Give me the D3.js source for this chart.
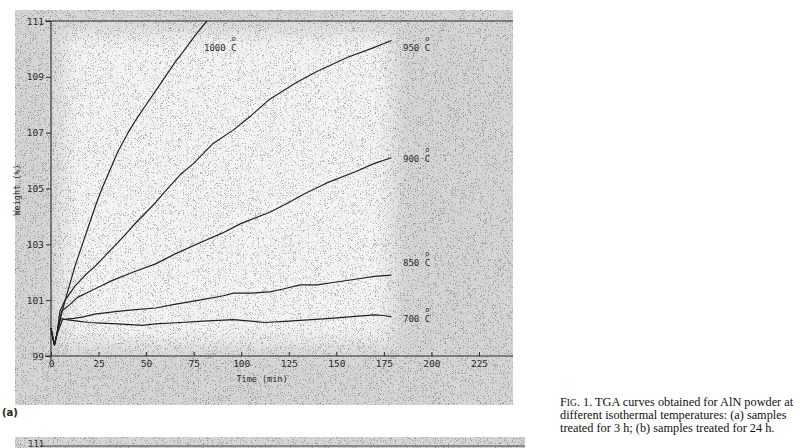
<!DOCTYPE html>
<html>
<head>
<meta charset="utf-8">
<script src="https://cdn.jsdelivr.net/npm/d3@7"></script>
<style>
  body { margin: 0; background: #fff; }
  svg { display: block; }
</style>
</head>
<body>
<svg id="chart" width="800" height="448"></svg>
<script>
// tick labels
var xTicks = [0, 25, 50, 75, 100, 125, 150, 175, 200, 225];
var yTicks = [99, 101, 103, 105, 107, 109, 111];

// curves: [time (min), weight (%)]
var curve700 = [[0,100.0],[0.8,99.7],[1.8,99.4],[3,99.75],[5,100.35],[8,100.3],[14,100.25],[20,100.2],[26,100.18],[35,100.15],[48,100.1],[55,100.15],[68,100.2],[80,100.25],[96,100.3],[105,100.25],[112,100.2],[125,100.25],[137,100.3],[147,100.35],[160,100.42],[170,100.47],[175,100.45],[179,100.4]];
var curve850 = [[0,100.0],[0.8,99.7],[1.8,99.4],[3,99.75],[6,100.3],[12,100.35],[17,100.4],[23,100.5],[35,100.6],[43,100.65],[55,100.72],[65,100.85],[78,101.0],[90,101.15],[96,101.25],[105,101.25],[115,101.3],[122,101.4],[131,101.55],[140,101.55],[150,101.65],[160,101.75],[170,101.85],[179,101.9]];
var curve900 = [[0,100.0],[0.8,99.7],[1.8,99.4],[3,99.75],[5.6,100.6],[10,100.85],[14,101.1],[20,101.3],[26,101.5],[32,101.7],[43,102.0],[55,102.3],[65,102.65],[78,103.05],[90,103.4],[100,103.75],[115,104.15],[125,104.5],[133,104.8],[145,105.2],[160,105.6],[170,105.9],[179,106.1]];
var curve950 = [[0,100.0],[0.8,99.7],[1.8,99.4],[3,99.75],[4.7,100.6],[7.4,101.0],[12.6,101.5],[18,101.9],[23,102.2],[30,102.7],[35,103.05],[39,103.35],[45,103.8],[50,104.15],[55,104.5],[60,104.9],[68,105.5],[75,105.9],[85,106.6],[96,107.1],[105,107.6],[115,108.2],[129,108.8],[140,109.2],[156,109.7],[168,110.0],[179,110.3]];
var curve1000 = [[0,100.0],[0.8,99.7],[1.8,99.4],[3,99.75],[4.7,100.3],[7.5,101.0],[10,101.6],[13,102.3],[16.5,103.0],[20,103.7],[23.5,104.4],[26.8,105.0],[30,105.5],[35,106.3],[40.5,107.0],[45,107.5],[50,108.0],[55,108.5],[60,109.0],[65,109.5],[70,109.95],[76,110.5],[82,111.0]];

var seriesNames = ["1000", "950", "900", "850", "700"];
var seriesData = [curve1000, curve950, curve900, curve850, curve700];

var svg = d3.select("#chart");

// speckle texture like the photocopy
var defs = svg.append("defs");
var f = defs.append("filter").attr("id", "speck")
  .attr("x", 0).attr("y", 0).attr("width", 1).attr("height", 1);
f.append("feTurbulence").attr("type", "fractalNoise")
  .attr("baseFrequency", 1.4).attr("numOctaves", 1).attr("seed", 4);
f.append("feColorMatrix").attr("type", "matrix")
  .attr("values", "0 0 0 0 0  0 0 0 0 0  0 0 0 0 0  6 0 0 0 -3.3");
f.append("feComposite").attr("in2", "SourceGraphic").attr("operator", "in");
var soft = defs.append("filter").attr("id", "soft")
  .attr("x", -0.2).attr("y", -0.2).attr("width", 1.4).attr("height", 1.4);
soft.append("feGaussianBlur").attr("stdDeviation", 10);

var x = d3.scaleLinear().domain([0, 225]).range([51, 479]);
var y = d3.scaleLinear().domain([99, 111]).range([356, 21]);

// grey scan background
svg.append("rect").attr("x", 15).attr("y", 10).attr("width", 498).attr("height", 395)
  .attr("fill", "#d6d6d6");
svg.append("rect").attr("x", 62).attr("y", 32).attr("width", 330).attr("height", 312)
  .attr("fill", "#f4f4f4").attr("filter", "url(#soft)");
svg.append("rect").attr("x", 15).attr("y", 10).attr("width", 498).attr("height", 395)
  .attr("fill", "#000").attr("opacity", 0.3).attr("filter", "url(#speck)");
// start of panel (b)
svg.append("rect").attr("x", 15).attr("y", 437).attr("width", 510).attr("height", 11)
  .attr("fill", "#d6d6d6");
svg.append("rect").attr("x", 15).attr("y", 437).attr("width", 510).attr("height", 11)
  .attr("fill", "#000").attr("opacity", 0.3).attr("filter", "url(#speck)");
svg.append("line").attr("x1", 40).attr("x2", 525).attr("y1", 446).attr("y2", 446)
  .attr("stroke", "#444").attr("stroke-width", 1);
svg.append("text").attr("x", 28).attr("y", 447)
  .attr("font-family", "DejaVu Sans Mono").attr("font-size", 9).attr("fill", "#333").text("111");

var ink = "#2a2a2a";
var mono = "DejaVu Sans Mono";

// axes
var xAxis = d3.axisBottom(x).tickValues(xTicks).tickSize(-4).tickPadding(4);
var gx = svg.append("g").attr("transform", "translate(0,356)").call(xAxis);
gx.select(".domain").remove();
svg.append("line").attr("x1", 45).attr("x2", 513).attr("y1", 356).attr("y2", 356)
  .attr("stroke", ink).attr("stroke-width", 1.1);
svg.append("line").attr("x1", 45).attr("x2", 513).attr("y1", 21).attr("y2", 21)
  .attr("stroke", ink).attr("stroke-width", 1.1);
gx.selectAll("text").attr("font-family", mono).attr("font-size", 9.5).attr("fill", ink);
gx.selectAll("line").attr("stroke", ink);

var yAxis = d3.axisLeft(y).tickValues(yTicks).tickSize(5).tickPadding(2);
var gy = svg.append("g").attr("transform", "translate(51,0)").call(yAxis);
gy.select(".domain").remove();
svg.append("line").attr("x1", 51).attr("x2", 51).attr("y1", 21).attr("y2", 360)
  .attr("stroke", ink).attr("stroke-width", 1.1);
gy.selectAll("text").attr("font-family", mono).attr("font-size", 9.5).attr("fill", ink);
gy.selectAll("line").attr("stroke", ink);

svg.append("text").attr("x", 262).attr("y", 382).attr("text-anchor", "middle")
  .attr("font-family", mono).attr("font-size", 8.5).attr("fill", ink).text("Time (min)");
svg.append("text").attr("transform", "translate(20,190) rotate(-90)").attr("text-anchor", "middle")
  .attr("font-family", mono).attr("font-size", 8.5).attr("fill", ink).text("Weight (%)");

// curves
var line = d3.line().x(function(d){ return x(d[0]); }).y(function(d){ return y(d[1]); });
svg.append("g").selectAll("path")
  .data(seriesData)
  .enter()
  .append("path")
  .attr("d", line)
  .attr("fill", "none")
  .attr("stroke", "#222")
  .attr("stroke-width", 1.2)
  .attr("stroke-linejoin", "round");

// curve labels, degree sign drawn as a small raised "o" over the C
var labelPos = [[204, 51], [403, 51], [403, 162], [403, 266], [403, 322]];
for (var i in seriesNames) {
  var lbl = seriesNames[i] + " C";
  svg.append("text")
    .attr("x", labelPos[i][0]).attr("y", labelPos[i][1])
    .attr("font-family", mono).attr("font-size", 9).attr("fill", ink)
    .text(lbl);
  svg.append("text")
    .attr("x", labelPos[i][0] + (lbl.length - 1) * 5.42 + 0.5).attr("y", labelPos[i][1] - 10)
    .attr("font-family", mono).attr("font-size", 7).attr("fill", ink)
    .text("o");
}

// panel letter and caption
svg.append("text").attr("x", 2).attr("y", 416)
  .attr("font-family", "DejaVu Sans").attr("font-size", 10).attr("font-weight", "bold")
  .attr("fill", "#222").text("(a)");

var captionLines = [
  "TGA curves obtained for AlN powder at",
  "different isothermal temperatures: (a) samples",
  "treated for 3 h; (b) samples treated for 24 h."
];
var cap = svg.append("g").attr("font-family", "Liberation Serif").attr("font-size", 12.3).attr("fill", "#111");
var c0 = cap.append("text").attr("x", 560).attr("y", 406);
c0.append("tspan").text("F");
c0.append("tspan").attr("font-size", 9.5).text("IG");
c0.append("tspan").text(". 1. " + captionLines[0]);
cap.append("text").attr("x", 560).attr("y", 419).text(captionLines[1]);
cap.append("text").attr("x", 560).attr("y", 432).text(captionLines[2]);
</script>
</body>
</html>
